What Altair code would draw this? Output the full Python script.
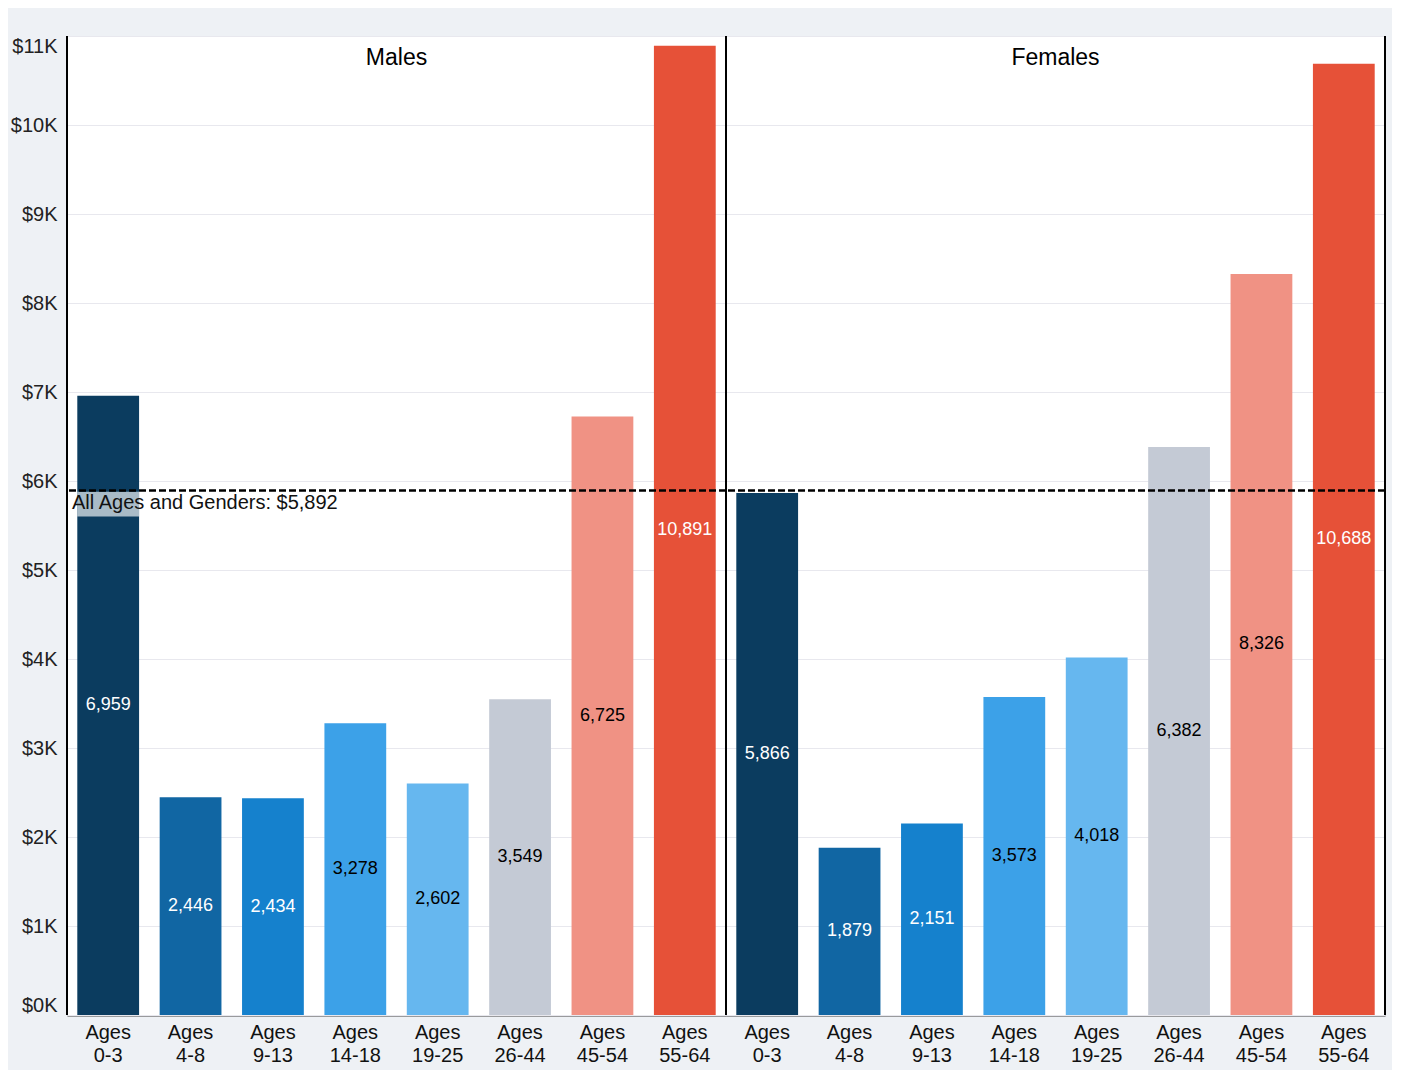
import altair as alt
import pandas as pd

ages = ["Ages 0-3", "Ages 4-8", "Ages 9-13", "Ages 14-18",
        "Ages 19-25", "Ages 26-44", "Ages 45-54", "Ages 55-64"]
genders = ["Males", "Females"]
males = [6959, 2446, 2434, 3278, 2602, 3549, 6725, 10891]
females = [5866, 1879, 2151, 3573, 4018, 6382, 8326, 10688]
overall = 5892
colors = ["#0b3c5f", "#1166a3", "#1581cd", "#3ca1e8",
          "#66b7ef", "#c4cad5", "#f09284", "#e65138"]
white_label_ages = ["Ages 0-3", "Ages 4-8", "Ages 9-13", "Ages 55-64"]
y_ticks = list(range(0, 11001, 1000))

rows = []
for g, vals in zip(genders, [males, females]):
    for a, v in zip(ages, vals):
        rows.append({"gender": g, "age": a, "value": v})
df = pd.DataFrame(rows)

W, H = 659, 979

x_enc = alt.X(
    "age:N", sort=ages,
    scale=alt.Scale(paddingInner=0.25, paddingOuter=0.125),
    axis=alt.Axis(title=None, labelAngle=0, labelExpr="split(datum.label, ' ')",
                  labelFontSize=20, labelLineHeight=23, labelColor="#111",
                  labelPadding=7, ticks=False, domainColor="#444", domainWidth=2),
)
y_scale = alt.Scale(domain=[0, 11000], nice=False)
y_enc = alt.Y(
    "value:Q", scale=y_scale,
    axis=alt.Axis(title=None, values=y_ticks,
                  labelExpr="'$' + format(datum.value / 1000, 'd') + 'K'",
                  labelFontSize=20, labelColor="#222", labelPadding=10,
                  ticks=False, domain=False, gridColor="#e8e8ee", gridWidth=1,
                  labelFlush=True),
)

bars = alt.Chart().mark_bar().encode(
    x=x_enc, y=y_enc,
    color=alt.Color("age:N", sort=ages, scale=alt.Scale(domain=ages, range=colors), legend=None),
)

box = alt.Chart().mark_rect(color="white", opacity=0.65).encode(
    x=x_enc, y=alt.datum(5600), y2=alt.datum(5880),
).transform_filter((alt.datum.gender == "Males") & (alt.datum.age == ages[0]))

avg_rule = alt.Chart().mark_rule(strokeDash=[7, 3], strokeWidth=2.5, color="black").encode(
    y=alt.datum(overall),
).transform_filter(alt.datum.age == ages[0])

avg_text = alt.Chart().mark_text(align="left", baseline="top", fontSize=20, dx=5, dy=2, color="#111").encode(
    x=alt.value(0), y=alt.datum(overall),
    text=alt.value(f"All Ages and Genders: ${overall:,}"),
).transform_filter((alt.datum.gender == "Males") & (alt.datum.age == ages[0]))

labels = alt.Chart().mark_text(fontSize=18, baseline="middle").transform_calculate(
    mid="datum.value / 2"
).encode(
    x=x_enc, y=alt.Y("mid:Q", scale=y_scale),
    text=alt.Text("value:Q", format=","),
    color=alt.condition(alt.FieldOneOfPredicate(field="age", oneOf=white_label_ages),
                        alt.value("white"), alt.value("black")),
)

header = alt.Chart().mark_text(fontSize=23, baseline="middle", color="black").encode(
    x=alt.value(W / 2), y=alt.value(22), text="gender:N",
).transform_filter(alt.datum.age == ages[0])

left_border = alt.Chart().mark_rule(color="black", strokeWidth=2).encode(
    x=alt.value(0), y=alt.value(0), y2=alt.value(H),
).transform_filter(alt.datum.age == ages[0])

right_border = alt.Chart().mark_rule(color="black", strokeWidth=2).encode(
    x=alt.value(W), y=alt.value(0), y2=alt.value(H),
).transform_filter(alt.datum.age == ages[0])

layered = alt.layer(bars, box, avg_rule, avg_text, labels, header, left_border, right_border,
                    data=df).properties(width=W, height=H)

chart = layered.facet(
    column=alt.Column("gender:N", sort=genders, title=None, header=alt.Header(labels=False)),
    spacing=0,
    bounds="flush",
).properties(
    background="#eef1f5",
    padding={"left": 2, "top": 26, "right": 5, "bottom": 5},
).configure(font="Liberation Sans").configure_view(stroke="transparent", fill="white")

chart.save("out.html", embed_options={"renderer": "svg", "actions": False})
